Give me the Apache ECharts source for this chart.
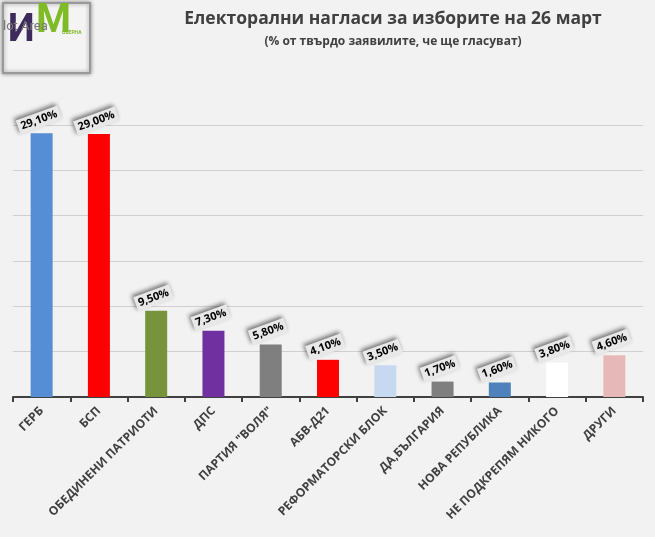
<!DOCTYPE html>
<html>
<head>
<meta charset="utf-8">
<script src="https://cdn.jsdelivr.net/npm/echarts@6/dist/echarts.min.js"></script>
<style>html,body{margin:0;padding:0;background:#f2f2f2}#c{width:655px;height:537px}</style>
</head>
<body>
<div id="c"></div>
<script>
var parties = ["ГЕРБ", "БСП", "ОБЕДИНЕНИ ПАТРИОТИ", "ДПС", "ПАРТИЯ \"ВОЛЯ\"", "АБВ-Д21",
    "РЕФОРМАТОРСКИ БЛОК", "ДА,БЪЛГАРИЯ", "НОВА РЕПУБЛИКА", "НЕ ПОДКРЕПЯМ НИКОГО", "ДРУГИ"];
var votes = [29.1, 29.0, 9.5, 7.3, 5.8, 4.1, 3.5, 1.7, 1.6, 3.8, 4.6];
var colors = ["#558ed5", "#ff0000", "#77933c", "#7030a0", "#7f7f7f", "#ff0000",
    "#c6d9f1", "#7f7f7f", "#4f81bd", "#ffffff", "#e6b9b8"];

var myChart = echarts.init(document.getElementById("c"));
var option = {
    backgroundColor: "#f2f2f2",
    title: {
        text: "Електорални нагласи за изборите на 26 март",
        subtext: "(% от твърдо заявилите, че ще гласуват)",
        left: 388, top: 5, textAlign: "center",
        textStyle: { fontFamily: "Open Sans", fontSize: 17.5, fontWeight: "bold", color: "#404040" },
        subtextStyle: { fontFamily: "Open Sans", fontSize: 12, fontWeight: "bold", color: "#404040" },
        itemGap: 8
    },
    graphic: [
        { type: "rect", left: 2, top: 2, shape: { width: 87, height: 70 },
          style: { fill: "#f4f4f4", stroke: "#999", lineWidth: 2, shadowBlur: 4, shadowColor: "rgba(0,0,0,.4)" } },
        { type: "text", left: 8, top: 12, style: { text: "И", fill: "#3f2a5e", font: "bold 38px Roboto" } },
        { type: "text", left: 36, top: 2, style: { text: "М", fill: "#7fba27", font: "bold 40px Roboto" } },
        { type: "text", left: 3, top: 20, style: { text: "lot Area", fill: "#777", font: "13px Roboto" } },
        { type: "text", left: 62, top: 30, style: { text: "ОБЕРНА", fill: "#7fba27", font: "bold 5px Roboto" } }
    ],
    grid: { left: 13, right: 12, top: 125, bottom: 140 },
    xAxis: {
        type: "category",
        data: parties,
        axisLine: { lineStyle: { color: "#404040", width: 2 } },
        axisTick: { show: true, length: 5, lineStyle: { color: "#404040", width: 2 } },
        axisLabel: { rotate: 45, interval: 0, color: "#404040", fontFamily: "Open Sans",
            fontWeight: "bold", fontSize: 12, margin: 12 }
    },
    yAxis: {
        type: "value", min: 0, max: 30, interval: 5,
        axisLabel: { show: false },
        axisLine: { show: false }, axisTick: { show: false },
        splitLine: { lineStyle: { color: "#d0d0d0" } }
    },
    series: [{
        type: "bar",
        barWidth: 22,
        data: votes.map(function (v, i) { return { value: v, itemStyle: { color: colors[i] } }; }),
        label: {
            show: true, position: "top", rotate: 20, distance: 6,
            formatter: function (p) { return p.value.toFixed(2).replace(".", ",") + "%"; },
            color: "#000", fontFamily: "Open Sans", fontWeight: "bold", fontSize: 11,
            backgroundColor: "#e8e8e8", padding: [2, 3],
            shadowColor: "rgba(0,0,0,.5)", shadowBlur: 4, shadowOffsetX: -2, shadowOffsetY: -2
        }
    }]
};
myChart.setOption(option);
</script>
</body>
</html>
